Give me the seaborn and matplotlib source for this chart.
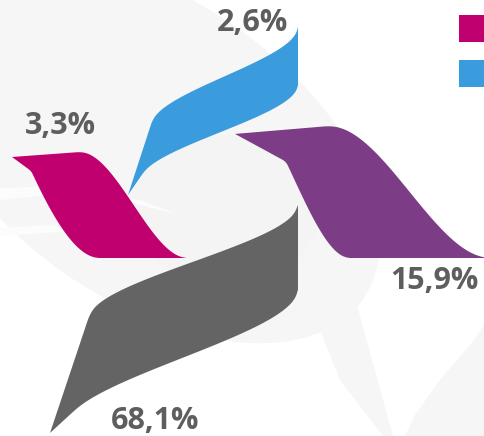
import numpy as np
import matplotlib
matplotlib.use("Agg")
import matplotlib.pyplot as plt
import seaborn as sns
from matplotlib.patches import Patch

# ---------------- data ----------------
share_labels = ["3,3%", "2,6%", "15,9%", "68,1%"]
shares = [3.3, 2.6, 15.9, 68.1]
colors = ["#C1006F", "#3A9CDD", "#7C3D86", "#646464"]
legend_idx = [0, 1]

# ---------------- petal geometry (pixel boxes + shape params) ----------------
# box = (x0, y0, w, h); orient 'h' = flat end at bottom, 'v' = flat end at right
boxes = [(12, 152, 175, 106), (128, 27, 170, 168), (235, 126, 255, 132), (50, 205, 248, 228)]
orients = ["h", "v", "h", "v"]
tip_v = [0.047, 0.0, 0.06, 0.0]
outer_knee = [(0.39, 0.0), (0.435, 0.14), (0.37, 0.0), (0.52, 0.16)]
outer_m0 = [0.0, 0.21, 0.0, 0.19]
inner_knee = [(0.11, 0.18), (0.13, 0.088), (0.2, 0.27), (0.1, 0.1)]
inner_end = [0.5, 0.655, 0.45, 0.63]
inner_m0 = [1.7, 0.39, 1.4, 0.59]
label_xy = [(60, 126), (253, 23), (434, 281), (155, 421)]


def hermite(s, m0):
    return m0 * (s**3 - 2 * s**2 + s) + (3 * s**2 - 2 * s**3)


def edge(tip, knee, end_u, m0, n=80):
    u1 = np.linspace(tip[0], knee[0], 12)
    v1 = np.linspace(tip[1], knee[1], 12)
    s = np.linspace(0, 1, n)
    u2 = knee[0] + (end_u - knee[0]) * s
    v2 = knee[1] + (1 - knee[1]) * hermite(s, m0)
    return np.r_[u1, u2[1:]], np.r_[v1, v2[1:]]


def to_px(i, u, v):
    x0, y0, w, h = boxes[i]
    if orients[i] == "h":
        return x0 + w * u, y0 + h * v
    return x0 + w * v, y0 + h * (1 - u)


def smooth(x, y, n=300, win=15):
    # resample by arc length and round off the corners
    d = np.hypot(np.diff(x), np.diff(y))
    s = np.r_[0, np.cumsum(d)]
    t = np.linspace(0, s[-1], n)
    xs, ys = np.interp(t, s, x), np.interp(t, s, y)
    k = np.ones(win) / win
    out = []
    for a in (xs, ys):
        ap = np.r_[2 * a[0] - a[win:0:-1], a, 2 * a[-1] - a[-2:-win - 2:-1]]
        out.append(np.convolve(ap, k, mode="same")[win:-win])
    return out


def petal(i):
    tip = (0.0, tip_v[i])
    xo, yo = smooth(*to_px(i, *edge(tip, outer_knee[i], 1.0, outer_m0[i])))
    xi, yi = smooth(*to_px(i, *edge(tip, inner_knee[i], inner_end[i], inner_m0[i])))
    return np.r_[xo, xi[::-1]], np.r_[yo, yi[::-1]]


def blob(cx, cy, a, b, ang, n=200):
    t = np.linspace(0, 2 * np.pi, n)
    c, s = np.cos(np.radians(ang)), np.sin(np.radians(ang))
    x, y = a * np.cos(t), b * np.sin(t)
    return cx + c * x - s * y, cy + s * x + c * y


sns.set_theme(style="white")
plt.rcParams["font.family"] = ["Open Sans", "DejaVu Sans"]
palette = sns.color_palette(colors)

fig = plt.figure(figsize=(4.84, 4.36), dpi=100)
ax = fig.add_axes([0, 0, 1, 1])
ax.set_xlim(0, 484)
ax.set_ylim(436, 0)
ax.axis("off")

# faint background swirl
bg = "#F6F6F6"
ax.fill(*blob(150, 150, 260, 150, 35), color=bg, lw=0, zorder=0)
ax.fill(*blob(225, 210, 95, 75, 0), color="#F4F4F5", lw=0, zorder=0)
ax.fill([300, 350, 393, 383, 340], [280, 280, 436, 436, 380], color=bg, lw=0, zorder=0)
ax.fill([484, 470, 440, 415, 405, 484], [325, 345, 380, 415, 436, 436], color=bg, lw=0, zorder=0)
ax.fill([0, 60, 140, 180, 120, 40, 0], [188, 186, 200, 215, 200, 196, 200], color="#FCFCFC", lw=0, zorder=1)
ax.fill([0, 50, 120, 60, 0], [228, 225, 240, 232, 236], color="#FCFCFC", lw=0, zorder=1)

for i in range(len(shares)):
    x, y = petal(i)
    ax.fill(x, y, color=palette[i], lw=0, zorder=3)
    ax.text(label_xy[i][0], label_xy[i][1], share_labels[i], fontsize=22,
            fontweight="bold", color="#5E5E5E", ha="center", va="center", zorder=4)

handles = [Patch(facecolor=palette[i], edgecolor="none") for i in legend_idx]
ax.legend(handles, ["" for _ in legend_idx], loc="upper left",
          bbox_to_anchor=(459, 15), bbox_transform=ax.transData,
          frameon=False, fontsize=21.8, handlelength=1, handleheight=1,
          borderpad=0, borderaxespad=0, labelspacing=0.45, handletextpad=0.2)

fig.savefig("out.png", dpi=100)
